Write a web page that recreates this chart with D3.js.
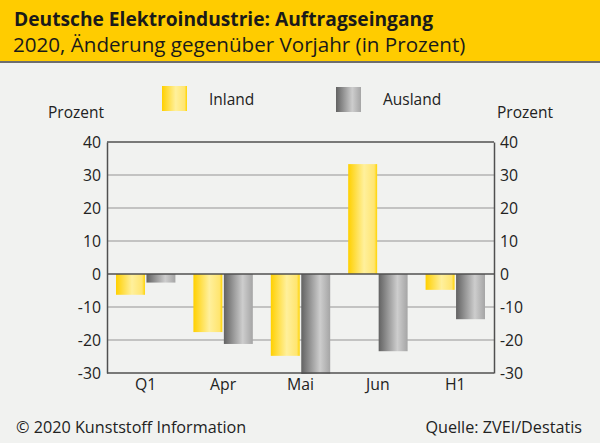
<!DOCTYPE html>
<html>
<head>
<meta charset="utf-8">
<script src="https://cdn.jsdelivr.net/npm/d3@7"></script>
<style>
    body { margin: 0; background: #f1f2f0; }
    svg { display: block; font-family: "Open Sans", sans-serif; }
</style>
</head>
<body>
<svg width="600" height="443"></svg>
<script>
// data
var categories = ["Q1", "Apr", "Mai", "Jun", "H1"];
var inland = [-6.3, -17.6, -24.8, 33.3, -4.8];
var ausland = [-2.6, -21.2, -30.3, -23.4, -13.7];
var yTicks = [40, 30, 20, 10, 0, -10, -20, -30];
var seriesNames = ["Inland", "Ausland"];

var svg = d3.select("svg"),
    margin = {top: 142, right: 106, bottom: 70, left: 107},
    width = +svg.attr("width") - margin.left - margin.right,
    height = +svg.attr("height") - margin.top - margin.bottom;

// background + header
svg.append("rect").attr("width", 600).attr("height", 443).attr("fill", "#f1f2f0");
svg.append("rect").attr("width", 600).attr("height", 61).attr("fill", "#ffcc00");
svg.append("rect").attr("y", 61).attr("width", 600).attr("height", 2).attr("fill", "#6e6e6e");

svg.append("text").attr("x", 14).attr("y", 25.5)
    .attr("font-size", 19.2).attr("font-weight", "bold").attr("fill", "#1a1a1a")
    .text("Deutsche Elektroindustrie: Auftragseingang");
svg.append("text").attr("x", 13).attr("y", 52)
    .attr("font-size", 20.6).attr("fill", "#1a1a1a")
    .text("2020, Änderung gegenüber Vorjahr (in Prozent)");

// gradients for the bars
var defs = svg.append("defs");
var gy = defs.append("linearGradient").attr("id", "gradInland");
gy.append("stop").attr("offset", "0%").attr("stop-color", "#ffd000");
gy.append("stop").attr("offset", "55%").attr("stop-color", "#fff09c");
gy.append("stop").attr("offset", "90%").attr("stop-color", "#ffe570");
gy.append("stop").attr("offset", "100%").attr("stop-color", "#ffd400");
var gg = defs.append("linearGradient").attr("id", "gradAusland");
gg.append("stop").attr("offset", "0%").attr("stop-color", "#626262");
gg.append("stop").attr("offset", "65%").attr("stop-color", "#cdcdcd");
gg.append("stop").attr("offset", "100%").attr("stop-color", "#a5a5a5");
var fills = ["url(#gradInland)", "url(#gradAusland)"];

var x = d3.scaleBand().domain(categories).range([0, width]).paddingInner(0.2325).paddingOuter(0.1163);
var xs = d3.scaleBand().domain(seriesNames).range([0, x.bandwidth()]).paddingInner(0.05);
var y = d3.scaleLinear().domain([-30, 40]).range([height, 0]);

var g = svg.append("g").attr("transform", "translate(" + margin.left + "," + margin.top + ")");

// grid lines
g.selectAll(".grid")
    .data(yTicks.filter(function (d) { return d !== 0 && d !== 40 && d !== -30; }))
    .enter().append("line")
    .attr("x1", 0).attr("x2", width)
    .attr("y1", function (d) { return y(d); })
    .attr("y2", function (d) { return y(d); })
    .attr("stroke", "#b3b3b3").attr("stroke-width", 1.6);

// bars
var rows = categories.map(function (c, i) {
    return [{cat: c, s: "Inland", v: inland[i]}, {cat: c, s: "Ausland", v: ausland[i]}];
});
g.selectAll(".grp")
    .data(rows)
    .enter().append("g")
    .attr("transform", function (d) { return "translate(" + x(d[0].cat) + ",0)"; })
    .selectAll("rect")
    .data(function (d) { return d; })
    .enter().append("rect")
    .attr("x", function (d) { return xs(d.s); })
    .attr("width", xs.bandwidth())
    .attr("y", function (d) { return y(Math.max(0, d.v)); })
    .attr("height", function (d) { return Math.abs(y(d.v) - y(0)); })
    .attr("fill", function (d, i) { return fills[i]; });

// frame lines: top, zero, bottom
[40, 0, -30].forEach(function (v) {
    g.append("line").attr("x1", 0).attr("x2", width)
        .attr("y1", y(v)).attr("y2", y(v))
        .attr("stroke", "#505050").attr("stroke-width", 1.5);
});

// axes (plain hyphen for negatives, like the original)
var fmt = function (d) { return String(d); };
var yLeft = g.append("g")
    .call(d3.axisLeft(y).tickValues(yTicks).tickFormat(fmt).tickSize(0).tickPadding(6));
var yRight = g.append("g")
    .attr("transform", "translate(" + width + ",0)")
    .call(d3.axisRight(y).tickValues(yTicks).tickFormat(fmt).tickSize(0).tickPadding(6));
[yLeft, yRight].forEach(function (a) {
    a.select(".domain").attr("stroke", "#505050").attr("stroke-width", 1.5);
    a.selectAll("text").attr("font-size", 15.8).attr("fill", "#222")
        .attr("font-family", "Open Sans, sans-serif");
});

var xAxis = g.append("g")
    .attr("transform", "translate(0," + height + ")")
    .call(d3.axisBottom(x).tickSize(0).tickPadding(6));
xAxis.select(".domain").remove();
xAxis.selectAll("text").attr("font-size", 15.8).attr("fill", "#222")
    .attr("font-family", "Open Sans, sans-serif");

// axis titles
svg.append("text").attr("x", 76).attr("y", 118).attr("text-anchor", "middle")
    .attr("font-size", 15.5).attr("fill", "#222").text("Prozent");
svg.append("text").attr("x", 525).attr("y", 118).attr("text-anchor", "middle")
    .attr("font-size", 15.5).attr("fill", "#222").text("Prozent");

// legend
var legendX = [162, 336];
seriesNames.forEach(function (s, i) {
    svg.append("rect").attr("x", legendX[i]).attr("y", 86 + i)
        .attr("width", 25).attr("height", 25).attr("fill", fills[i]);
    svg.append("text").attr("x", legendX[i] + 47).attr("y", 105)
        .attr("font-size", 15.5).attr("fill", "#222").text(s);
});

// footer
svg.append("text").attr("x", 16).attr("y", 433)
    .attr("font-size", 16.2).attr("fill", "#222").text("© 2020 Kunststoff Information");
svg.append("text").attr("x", 582).attr("y", 433).attr("text-anchor", "end")
    .attr("font-size", 16.2).attr("fill", "#222").text("Quelle: ZVEI/Destatis");
</script>
</body>
</html>
